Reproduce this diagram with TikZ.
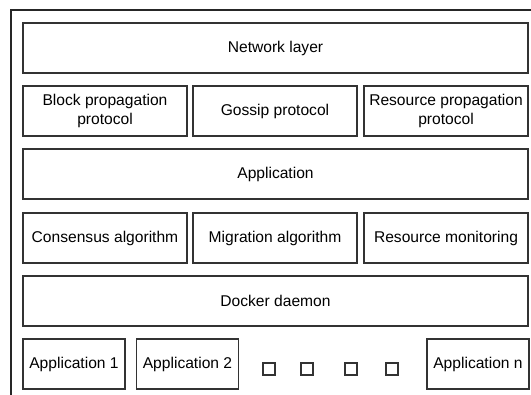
\documentclass[tikz,border=0pt]{standalone}
\usepackage{fontspec}
\setmainfont{Liberation Sans}
\begin{document}
\begin{tikzpicture}[x=0.75pt, y=-0.75pt,
  every node/.style={font=\fontsize{11.7}{14}\selectfont, align=center},
  layer/.style={draw=black!80, line width=0.8pt, minimum width=378.75pt, minimum height=37.5pt},
  module/.style={draw=black!80, line width=0.8pt, minimum width=123pt, minimum height=37.5pt},
  appbox/.style={draw=black!80, line width=0.8pt, minimum width=76.5pt, minimum height=37.5pt},
  dot/.style={draw=black!80, line width=0.8pt, minimum size=9pt, inner sep=0pt}]
  \useasboundingbox (0,0) rectangle (531,394);
  \clip (0,0) rectangle (531,394);
  % frame
  \draw[black!85, line width=0.8pt] (11,410) -- (11,10) -- (545,10);
  % layers
  \node[layer] (net) at (275.5,48) {Network layer};
  \node[module] (block) at (105,111) {Block propagation\\protocol};
  \node[module] (gossip) at (275,111) {Gossip protocol};
  \node[module] (respro) at (446,111) {Resource propagation\\protocol};
  \node[layer] (app) at (275.5,174) {Application};
  \node[module] (consensus) at (105,238) {Consensus algorithm};
  \node[module] (migration) at (275,238) {Migration algorithm};
  \node[module] (monitor) at (446,238) {Resource monitoring};
  \node[layer] (docker) at (275.5,301) {Docker daemon};
  % containers
  \node[appbox] (app1) at (74,364) {Application 1};
  \node[appbox] (app2) at (187.5,364) {Application 2};
  \node[appbox] (appn) at (478,364) {Application n};
  \foreach \x/\n in {269/1, 307/2, 351/3, 392/4}
    \node[dot] (dot\n) at (\x,369) {};
\end{tikzpicture}
\end{document}
